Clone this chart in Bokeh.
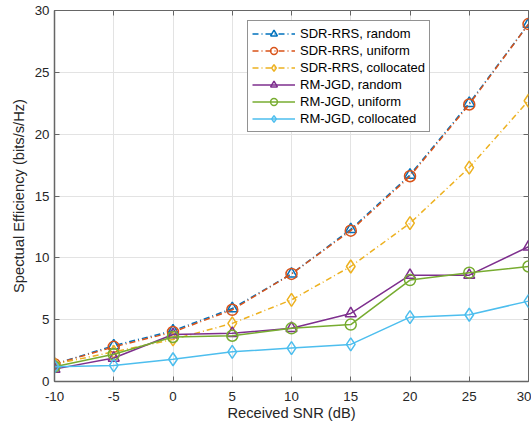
from bokeh.plotting import figure
from bokeh.models import LinearAxis, Legend, LegendItem, FixedTicker, Range1d
from bokeh.embed import file_html
from bokeh.resources import INLINE

snr = [-10, -5, 0, 5, 10, 15, 20, 25, 30]
sdr_random = [1.4, 2.9, 4.1, 5.9, 8.7, 12.3, 16.7, 22.5, 28.9]
sdr_uniform = [1.4, 2.8, 4.0, 5.8, 8.7, 12.2, 16.6, 22.4, 28.9]
sdr_collocated = [1.4, 2.4, 3.4, 4.7, 6.6, 9.3, 12.8, 17.3, 22.7]
rm_random = [1.0, 1.9, 3.8, 3.9, 4.3, 5.5, 8.6, 8.6, 10.9]
rm_uniform = [1.2, 2.2, 3.6, 3.7, 4.3, 4.6, 8.2, 8.8, 9.3]
rm_collocated = [1.2, 1.3, 1.8, 2.4, 2.7, 3.0, 5.2, 5.4, 6.5]

x_ticks = [-10, -5, 0, 5, 10, 15, 20, 25, 30]
y_ticks = [0, 5, 10, 15, 20, 25, 30]
x_tick_labels = ["-10", "-5", "0", "5", "10", "15", "20", "25", "30"]

FONT = "Liberation Sans"
TXT = "#262626"
AX = "#666666"

p = figure(width=531, height=424, output_backend="svg", toolbar_location=None,
           x_range=Range1d(-10, 30), y_range=Range1d(0, 30),
           min_border_left=54, min_border_right=3, min_border_top=10, min_border_bottom=43)
p.background_fill_color = "white"
p.border_fill_color = "white"
p.outline_line_color = AX
p.outline_line_width = 1

for ax in (p.xaxis[0], p.yaxis[0]):
    ax.major_tick_in = 5
    ax.major_tick_out = 0
    ax.minor_tick_in = 0
    ax.minor_tick_out = 0
    ax.axis_line_color = AX
    ax.axis_line_width = 1.5
    ax.major_tick_line_color = AX
    ax.major_label_text_font = FONT
    ax.major_label_text_font_size = "13.3px"
    ax.major_label_text_color = TXT
    ax.axis_label_text_font = FONT
    ax.axis_label_text_font_size = "14.7px"
    ax.axis_label_text_font_style = "normal"
    ax.axis_label_text_color = TXT
p.xaxis[0].ticker = FixedTicker(ticks=x_ticks)
p.xaxis[0].major_label_overrides = {t: s for t, s in zip(x_ticks, x_tick_labels)}
p.yaxis[0].ticker = FixedTicker(ticks=y_ticks)
p.xaxis[0].axis_label = "Received SNR (dB)"
p.yaxis[0].axis_label = "Spectual Efficiency (bits/s/Hz)"
p.xaxis[0].major_label_standoff = 10
p.xaxis[0].axis_label_standoff = 1
p.yaxis[0].major_label_standoff = 5
p.yaxis[0].axis_label_standoff = 5

p.xgrid.ticker = FixedTicker(ticks=x_ticks)
p.ygrid.ticker = FixedTicker(ticks=y_ticks)
p.xgrid.grid_line_color = "#e3e3e3"
p.ygrid.grid_line_color = "#e3e3e3"

ra = LinearAxis(ticker=FixedTicker(ticks=y_ticks), major_tick_in=5, major_tick_out=0,
                minor_tick_in=0, minor_tick_out=0,
                major_label_overrides={t: "" for t in y_ticks},
                major_label_standoff=0, axis_line_color=None, major_tick_line_color=AX)
ta = LinearAxis(ticker=FixedTicker(ticks=x_ticks), major_tick_in=5, major_tick_out=0,
                minor_tick_in=0, minor_tick_out=0,
                major_label_overrides={t: "" for t in x_ticks},
                major_label_standoff=0, axis_line_color=None, major_tick_line_color=AX)
p.add_layout(ra, "right")
p.add_layout(ta, "above")

C = ["#0072BD", "#D95319", "#EDB120", "#7E2F8E", "#77AC30", "#4DBEEE"]
series = [
    ("SDR-RRS, random", sdr_random, C[0], "triangle", "6 3 1 3"),
    ("SDR-RRS, uniform", sdr_uniform, C[1], "circle", "6 3 1 3"),
    ("SDR-RRS, collocated", sdr_collocated, C[2], "diamond", "6 3 1 3"),
    ("RM-JGD, random", rm_random, C[3], "triangle", "solid"),
    ("RM-JGD, uniform", rm_uniform, C[4], "circle", "solid"),
    ("RM-JGD, collocated", rm_collocated, C[5], "diamond", "solid"),
]
items = []
for name, ys, col, mk, dash in series:
    l = p.line(snr, ys, line_color=col, line_width=1.5, line_dash=dash)
    sz = 13 if mk == "diamond" else 11
    m = p.scatter(snr, ys, marker=mk, size=sz, fill_color=None, line_color=col, line_width=1.5)
    items.append(LegendItem(label=name, renderers=[l, m]))

leg = Legend(items=items, location=(193, 249))
leg.label_text_font = FONT
leg.label_text_font_size = "13px"
leg.label_text_color = "black"
leg.border_line_color = "#262626"
leg.border_line_width = 1
leg.background_fill_alpha = 1
leg.glyph_width = 43
leg.label_height = 17
leg.glyph_height = 17
leg.spacing = 0
leg.padding = 4
leg.margin = 0
leg.label_standoff = 5
p.add_layout(leg, "center")

open("out.html", "w").write(file_html(p, INLINE))
